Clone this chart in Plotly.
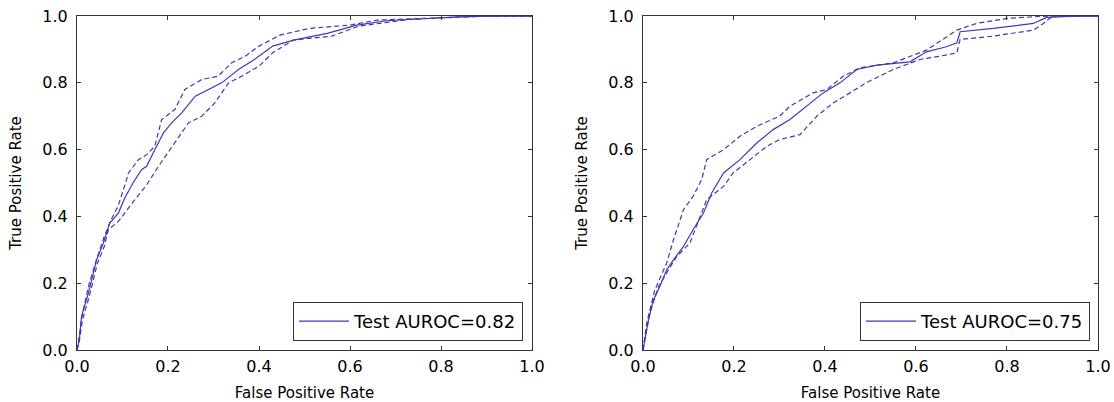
import plotly.graph_objects as go

# ROC curves
left_fpr = [0, 0.005, 0.01, 0.025, 0.043, 0.058, 0.072, 0.091, 0.105, 0.123, 0.142, 0.153, 0.171, 0.19,
            0.208, 0.23, 0.26, 0.289, 0.318, 0.355, 0.39, 0.43, 0.476, 0.55, 0.615, 0.68, 0.77, 0.84, 0.91, 1.0]
left_tpr = [0, 0.03, 0.10, 0.17, 0.27, 0.32, 0.38, 0.41, 0.455, 0.50, 0.54, 0.55, 0.60, 0.65,
            0.68, 0.71, 0.76, 0.78, 0.80, 0.84, 0.87, 0.91, 0.928, 0.948, 0.973, 0.986, 0.993, 0.998, 1.0, 1.0]
left_up_fpr = [0, 0.005, 0.012, 0.027, 0.045, 0.06, 0.075, 0.09, 0.109, 0.113, 0.135, 0.153, 0.171, 0.186,
               0.215, 0.237, 0.274, 0.31, 0.34, 0.37, 0.40, 0.446, 0.51, 0.6, 0.66, 0.8, 0.9, 1.0]
left_up_tpr = [0, 0.04, 0.11, 0.2, 0.28, 0.34, 0.39, 0.43, 0.51, 0.53, 0.57, 0.585, 0.61, 0.69,
               0.72, 0.78, 0.81, 0.82, 0.86, 0.88, 0.91, 0.943, 0.963, 0.973, 0.988, 0.996, 1.0, 1.0]
left_lo_fpr = [0, 0.005, 0.012, 0.027, 0.045, 0.06, 0.069, 0.091, 0.127, 0.153, 0.179, 0.215, 0.245,
               0.274, 0.303, 0.333, 0.362, 0.40, 0.43, 0.475, 0.56, 0.62, 0.73, 0.84, 0.92, 1.0]
left_lo_tpr = [0, 0.025, 0.09, 0.16, 0.26, 0.31, 0.36, 0.385, 0.45, 0.494, 0.55, 0.62, 0.68,
               0.70, 0.74, 0.80, 0.82, 0.85, 0.89, 0.928, 0.94, 0.97, 0.99, 0.997, 1.0, 1.0]

right_fpr = [0, 0.012, 0.023, 0.037, 0.052, 0.067, 0.089, 0.11, 0.133, 0.151, 0.177, 0.213, 0.25, 0.286,
             0.323, 0.36, 0.396, 0.433, 0.47, 0.514, 0.587, 0.623, 0.667, 0.69, 0.697, 0.77, 0.858, 0.887, 0.95, 1.0]
right_tpr = [0, 0.09, 0.15, 0.19, 0.24, 0.27, 0.31, 0.36, 0.41, 0.47, 0.53, 0.57, 0.62, 0.66,
             0.69, 0.73, 0.77, 0.80, 0.84, 0.853, 0.863, 0.893, 0.908, 0.92, 0.953, 0.963, 0.978, 0.996, 1.0, 1.0]
right_up_fpr = [0, 0.008, 0.026, 0.052, 0.067, 0.089, 0.11, 0.129, 0.14, 0.177, 0.213, 0.25, 0.30,
                0.323, 0.374, 0.404, 0.44, 0.477, 0.55, 0.623, 0.69, 0.733, 0.80, 0.887, 1.0]
right_up_tpr = [0, 0.08, 0.18, 0.26, 0.33, 0.42, 0.46, 0.51, 0.57, 0.60, 0.64, 0.67, 0.70,
                0.73, 0.77, 0.78, 0.82, 0.845, 0.86, 0.898, 0.958, 0.978, 0.993, 1.0, 1.0]
right_lo_fpr = [0, 0.015, 0.034, 0.052, 0.074, 0.103, 0.12, 0.14, 0.177, 0.198, 0.235, 0.272, 0.30,
                0.345, 0.382, 0.418, 0.455, 0.49, 0.55, 0.609, 0.653, 0.69, 0.697, 0.77, 0.858, 0.88, 0.9, 1.0]
right_lo_tpr = [0, 0.11, 0.19, 0.23, 0.28, 0.32, 0.38, 0.45, 0.49, 0.53, 0.57, 0.61, 0.63,
                0.645, 0.70, 0.74, 0.77, 0.80, 0.84, 0.87, 0.88, 0.89, 0.93, 0.94, 0.958, 0.978, 1.0, 1.0]

legend_names = ["Test AUROC=0.82", "Test AUROC=0.75"]
tick_vals = [0, 0.2, 0.4, 0.6, 0.8, 1.0]
tick_text = ["0.0", "0.2", "0.4", "0.6", "0.8", "1.0"]

LINE = "#3b3bb0"
FONT = "DejaVu Sans"

panels = [
    (left_fpr, left_tpr, left_up_fpr, left_up_tpr, left_lo_fpr, left_lo_tpr),
    (right_fpr, right_tpr, right_up_fpr, right_up_tpr, right_lo_fpr, right_lo_tpr),
]

fig = go.Figure()
for i, (fx, fy, ux, uy, lx, ly) in enumerate(panels):
    xa = "x" if i == 0 else "x2"
    ya = "y" if i == 0 else "y2"
    lg = "legend" if i == 0 else "legend2"
    fig.add_trace(go.Scatter(x=fx, y=fy, mode="lines", xaxis=xa, yaxis=ya, legend=lg,
                             name=legend_names[i], line=dict(color=LINE, width=1.2)))
    for bx, by in [(ux, uy), (lx, ly)]:
        fig.add_trace(go.Scatter(x=bx, y=by, mode="lines", xaxis=xa, yaxis=ya, showlegend=False,
                                 line=dict(color=LINE, width=1.2, dash="5px,3px")))

axis_common = dict(
    range=[0, 1], tickvals=tick_vals, ticktext=tick_text, ticks="inside", ticklen=4,
    tickcolor="#333", showline=True, linecolor="#333", linewidth=1, mirror="ticks",
    showgrid=False, zeroline=False, automargin=False, ticklabeloverflow="allow",
    tickfont=dict(family=FONT, size=16, color="black"),
)
xtitle = dict(text="False Positive Rate", font=dict(size=15), standoff=24)
ytitle = dict(text="True Positive Rate", font=dict(size=15), standoff=17)

fig.update_layout(
    width=1114, height=402,
    margin=dict(l=0, r=0, t=0, b=0),
    paper_bgcolor="white", plot_bgcolor="white",
    font=dict(family=FONT, color="black"),
    xaxis=dict(axis_common, domain=[0.0691, 0.4776], anchor="y", title=xtitle, ticklabelstandoff=2),
    yaxis=dict(axis_common, domain=[0.1294, 0.960], anchor="x", title=ytitle, ticklabelstandoff=5),
    xaxis2=dict(axis_common, domain=[0.5772, 0.9856], anchor="y2", title=xtitle, ticklabelstandoff=2),
    yaxis2=dict(axis_common, domain=[0.1294, 0.960], anchor="x2", title=ytitle, ticklabelstandoff=5),
    legend=dict(x=0.4695, y=0.1517, xanchor="right", yanchor="bottom", itemwidth=50,
                bordercolor="#333", borderwidth=1, bgcolor="white",
                font=dict(family=FONT, size=18)),
    legend2=dict(x=0.9785, y=0.1517, xanchor="right", yanchor="bottom", itemwidth=50,
                 bordercolor="#333", borderwidth=1, bgcolor="white",
                 font=dict(family=FONT, size=18)),
)

# drop the default page margin so the figure fills the window exactly
fig.write_html("out.html", config={"displayModeBar": False},
               post_script="document.body.style.margin='0';document.body.style.overflow='hidden';")
